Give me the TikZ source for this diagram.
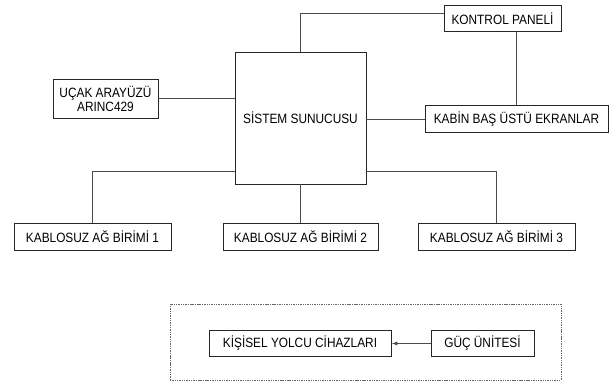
\documentclass[tikz,border=0pt]{standalone}
\usepackage{fontspec}
\setmainfont{Liberation Sans}[FakeStretch=0.88]
\usetikzlibrary{arrows.meta,positioning}

\begin{document}
\begin{tikzpicture}[x=0.03cm, y=-0.03cm,
		unit/.style={draw=black!85, line width=0.8pt, inner sep=1pt, minimum height=0.8cm, align=center, font=\fontsize{11.5pt}{12pt}\selectfont},
		link/.style={draw=black!70, line width=0.8pt},
		frame/.style={draw=black!60, line width=0.7pt, dash pattern=on 1.2pt off 0.8pt, inner sep=0pt},
		>={Latex[length=5pt,width=3.5pt]}
	]
	\useasboundingbox (0,0) rectangle (609,381);

	\node[unit, minimum width=3.51cm] (kontrol) at (502.5,18.5) {KONTROL PANEL\.I};
	\node[unit, minimum width=3.93cm, minimum height=3.96cm] (sunucu) at (300.5,118) {S\.ISTEM SUNUCUSU};
	\node[unit, minimum width=3.15cm, minimum height=1.17cm] (ucak) at (105.5,98.5) {UÇAK ARAYÜZÜ\\ARINC429};
	\node[unit, minimum width=5.49cm] (kabin) at (516.5,119) {KAB\.IN BAŞ ÜSTÜ EKRANLAR};

	\node[unit, minimum width=4.71cm] (kablosuz1) at (92.5,237) {KABLOSUZ AĞ B\.IR\.IM\.I 1};
	\node[unit, minimum width=4.65cm] (kablosuz2) at (300.5,237) {KABLOSUZ AĞ B\.IR\.IM\.I 2};
	\node[unit, minimum width=4.71cm] (kablosuz3) at (496.5,237) {KABLOSUZ AĞ B\.IR\.IM\.I 3};

	\node[frame, minimum width=11.73cm, minimum height=2.28cm] (grup) at (365.5,342) {};
	\node[unit, minimum width=5.46cm] (yolcu) at (300,343.5) {K\.IŞ\.ISEL YOLCU C\.IHAZLARI};
	\node[unit, minimum width=3.09cm] (guc) at (482.5,343.5) {GÜÇ ÜN\.ITES\.I};

	\draw[link] (sunucu.north) |- ([yshift=0.165cm]kontrol.west);
	\draw[link] (kontrol.south -| kabin.north) -- (kabin.north);
	\draw[link] (ucak.east) -- (ucak.east -| sunucu.west);
	\draw[link] (kabin.west -| sunucu.east) -- (kabin.west);

	\draw[link] ([yshift=0.39cm]sunucu.south west) -| (kablosuz1.north);
	\draw[link] (sunucu.south) -- (kablosuz2.north);
	\draw[link] ([yshift=0.39cm]sunucu.south east) -| (kablosuz3.north);

	\draw[link, ->] (guc) -- (yolcu);
\end{tikzpicture}
\end{document}
